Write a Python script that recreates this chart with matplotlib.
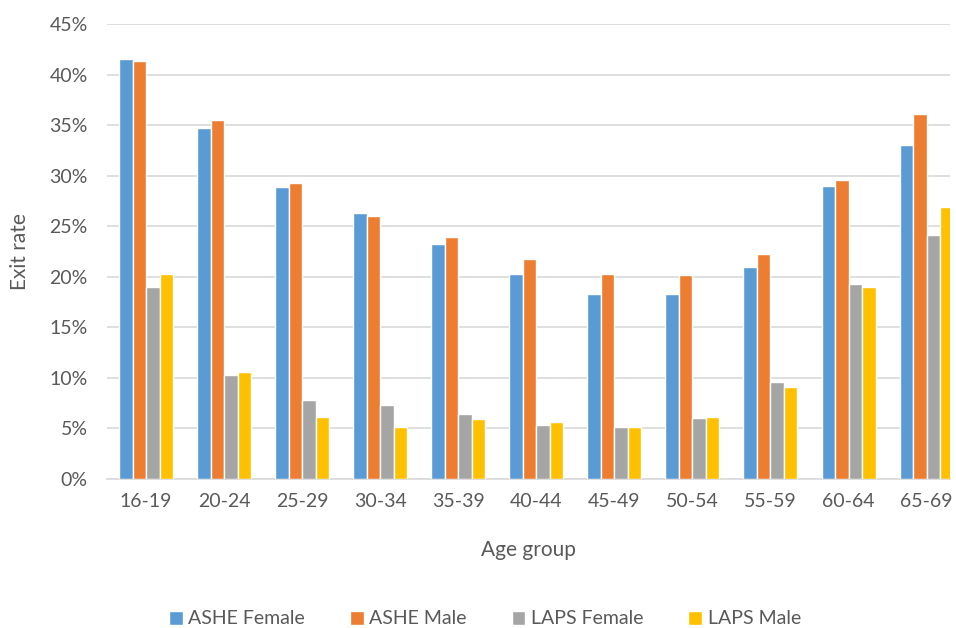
import matplotlib
matplotlib.use("Agg")
import matplotlib.pyplot as plt
import numpy as np
from matplotlib.ticker import PercentFormatter, MultipleLocator

categories = ["16-19", "20-24", "25-29", "30-34", "35-39", "40-44",
              "45-49", "50-54", "55-59", "60-64", "65-69"]
ashe_female = [41.5, 34.7, 28.9, 26.3, 23.2, 20.3, 18.3, 18.3, 21.0, 29.0, 33.0]
ashe_male   = [41.3, 35.5, 29.3, 26.0, 23.9, 21.8, 20.3, 20.2, 22.3, 29.6, 36.1]
laps_female = [19.0, 10.3, 7.8, 7.3, 6.4, 5.3, 5.1, 6.0, 9.6, 19.3, 24.1]
laps_male   = [20.3, 10.6, 6.1, 5.1, 5.9, 5.6, 5.1, 6.1, 9.1, 19.0, 26.9]

series = [("ASHE Female", ashe_female, "#5b9bd5"),
          ("ASHE Male", ashe_male, "#ed7d31"),
          ("LAPS Female", laps_female, "#a5a5a5"),
          ("LAPS Male", laps_male, "#ffc000")]

plt.rcParams['font.family'] = ['Lato', 'DejaVu Sans']
fig = plt.figure(figsize=(9.56, 6.28), dpi=100)
ax = fig.add_axes([107/956, 1-479/628, (950-107)/956, (479-24)/628])

x = np.arange(len(categories))
w = 0.173
for i, (name, vals, col) in enumerate(series):
    ax.bar(x + (i - 1.5) * w, vals, width=w, color=col, edgecolor="white",
           linewidth=1.0, label=name, zorder=3)

ax.set_ylim(0, 45)
ax.set_xlim(-0.5, 10.3)
ax.yaxis.set_major_locator(MultipleLocator(5))
ax.yaxis.set_major_formatter(PercentFormatter(decimals=0))
ax.grid(axis="y", color="#d9d9d9", linewidth=1.2, zorder=0)
for s in ["top", "right", "left"]:
    ax.spines[s].set_visible(False)
ax.spines["bottom"].set_color("#d9d9d9")
ax.spines["bottom"].set_linewidth(1.2)
ax.set_xticks(x)
ax.set_xticklabels(categories)
ax.tick_params(axis="both", length=0, labelsize=14, colors="#595959", pad=10)
ax.tick_params(axis="y", pad=14)
ax.set_xlabel("Age group", fontsize=15, color="#595959", labelpad=22)
ax.set_ylabel("Exit rate", fontsize=15, color="#595959", labelpad=14)

fig.legend(loc="center", bbox_to_anchor=(485/956, 1-619/628), ncol=4,
           frameon=False, fontsize=14, labelcolor="#595959",
           handlelength=0.7, handleheight=0.7, handletextpad=0.3,
           columnspacing=2.3)

fig.savefig("out.png", dpi=100)
